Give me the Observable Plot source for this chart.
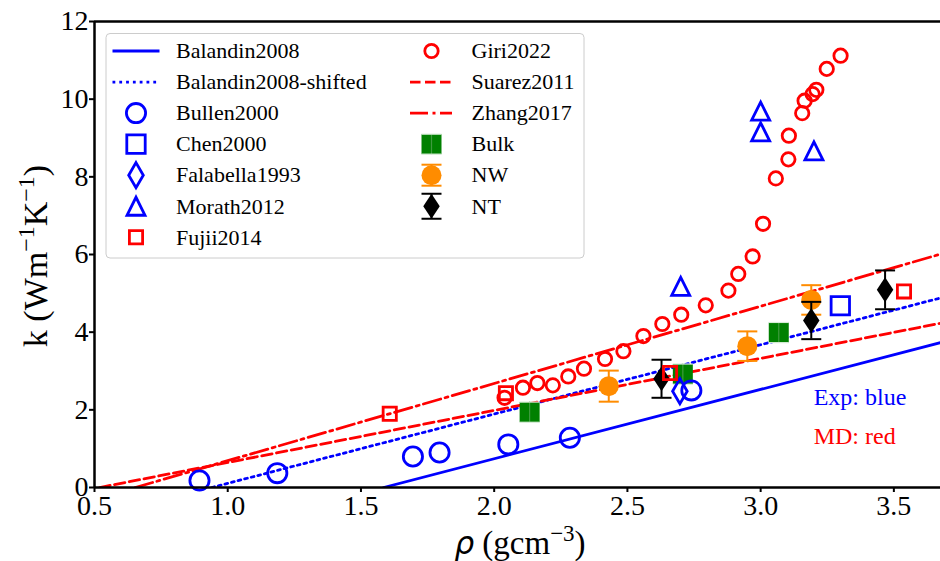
<!DOCTYPE html>
<html><head><meta charset="utf-8">
<script src="https://cdn.jsdelivr.net/npm/d3@7"></script>
<script src="https://cdn.jsdelivr.net/npm/@observablehq/plot@0.6"></script>
<style>body{margin:0;background:#fff}#chart{position:relative;width:940px;height:561px}</style>
</head><body><div id="chart"></div>
<script>
// ---------- data ----------
const xTicks = [0.5, 1.0, 1.5, 2.0, 2.5, 3.0, 3.5];
const yTicks = [0, 2, 4, 6, 8, 10, 12];

const bullenRho = [0.894, 1.186, 1.695, 1.795, 2.053, 2.284, 2.74];
const bullenK   = [0.18, 0.37, 0.80, 0.90, 1.11, 1.28, 2.50];
const chenRho = [3.299];
const chenK   = [4.68];
const falabellaRho = [2.697];
const falabellaK   = [2.48];
const morathRho = [2.70, 3.00, 3.00, 3.20];
const morathK   = [5.18, 9.69, 9.16, 8.67];
const fujiiRho = [1.608, 2.044, 2.66, 3.538];
const fujiiK   = [1.90, 2.43, 2.95, 5.05];
const giriRho = [2.039, 2.108, 2.162, 2.220, 2.278, 2.337, 2.416, 2.485, 2.560, 2.631, 2.702, 2.794, 2.879, 2.916, 2.970, 3.009, 3.057, 3.104, 3.106, 3.156, 3.165, 3.195, 3.209, 3.248, 3.300];
const giriK   = [2.31, 2.57, 2.69, 2.63, 2.86, 3.06, 3.31, 3.51, 3.90, 4.21, 4.45, 4.69, 5.07, 5.50, 5.95, 6.79, 7.96, 8.45, 9.06, 9.64, 9.96, 10.13, 10.24, 10.78, 11.12];

const bulkRho = [2.133, 2.708, 3.068];
const bulkK   = [1.94, 2.92, 3.99];
const bulkErr = [0.26, 0.26, 0.26];
const nwRho = [2.43, 2.95, 3.19];
const nwK   = [2.61, 3.64, 4.83];
const nwErr = [0.40, 0.38, 0.38];
const ntRho = [2.628, 3.19, 3.467];
const ntK   = [2.80, 4.30, 5.09];
const ntErr = [0.49, 0.48, 0.50];

// fitted straight lines: end points
const balandinRho = [1.585, 3.675];
const balandinK   = [0, 3.73];
const shiftedRho = [0.94, 3.675];
const shiftedK   = [0, 4.88];
const suarezRho = [0.52, 3.675];
const suarezK   = [0, 4.23];
const zhangRho = [0.653, 3.675];
const zhangK   = [0, 6.01];

const noteText  = ["Exp: blue", "MD: red"];
const noteRho   = [3.199, 3.199];
const noteK     = [2.32, 1.31];
const noteColor = ["#0000ff", "#ff0000"];

// ---------- helpers ----------
const zip = (xs, ys, es) => xs.map((x, i) => ({x, y: ys[i], e: es ? es[i] : 0}));
const rOf = size => Math.sqrt(size / Math.PI);
const thinDiamond = ratio => ({draw(c, s) {const r = rOf(s), w = r * ratio; c.moveTo(0, -r); c.lineTo(w, 0); c.lineTo(0, r); c.lineTo(-w, 0); c.closePath();}});
const triUp = {draw(c, s) {const r = rOf(s); c.moveTo(0, -r); c.lineTo(r, r); c.lineTo(-r, r); c.closePath();}};
const sq = {draw(c, s) {const r = rOf(s); c.moveTo(-r, -r); c.lineTo(r, -r); c.lineTo(r, r); c.lineTo(-r, r); c.closePath();}};
const cap = {draw(c, s) {const r = rOf(s); c.moveTo(-r, 0); c.lineTo(r, 0);}};
const circ = {draw(c, s) {const r = rOf(s); c.moveTo(r, 0); c.arc(0, 0, r, 0, 2 * Math.PI);}};

const BLUE = "#0000ff", RED = "#ff0000", GREEN = "#008000", ORANGE = "#ff8c00";
const BULKBAR = "#3f9a3f", BULKCAP = "#d8ecd8";
const LW = 2.8, MW = 2.8;
const DASH = "10.5,4.5", DASHDOT = "18,4.5,3,4.5", DOT = "2.8,4";

const lines = [
  {d: zip(balandinRho, balandinK), c: BLUE, dash: null},
  {d: zip(shiftedRho, shiftedK), c: BLUE, dash: DOT},
  {d: zip(suarezRho, suarezK), c: RED, dash: DASH},
  {d: zip(zhangRho, zhangK), c: RED, dash: DASHDOT}
];

const bulk = zip(bulkRho, bulkK, bulkErr);
const nw = zip(nwRho, nwK, nwErr);
const nt = zip(ntRho, ntK, ntErr);

function errMarks(data, color, width, capR, capColor = color) {
  return [
    Plot.ruleX(data, {x: "x", y1: d => d.y - d.e, y2: d => d.y + d.e, stroke: color, strokeWidth: width}),
    Plot.dot(data, {x: "x", y: d => d.y + d.e, symbol: cap, r: capR, stroke: capColor, fill: "none", strokeWidth: width}),
    Plot.dot(data, {x: "x", y: d => d.y - d.e, symbol: cap, r: capR, stroke: capColor, fill: "none", strokeWidth: width})
  ];
}

const W = 940, H = 561, ML = 94, MR = 0, MT = 21, MB = 74;
const FONT = "'Liberation Serif', 'Times New Roman', serif";

const plot = Plot.plot({
  width: W, height: H,
  marginLeft: ML, marginRight: MR, marginTop: MT, marginBottom: MB,
  style: {fontFamily: FONT, fontSize: "28px", color: "black", background: "white"},
  x: {domain: [0.5, 3.675], label: null},
  y: {domain: [0, 12], label: null},
  marks: [
    ...lines.map(l => Plot.line(l.d, {x: "x", y: "y", stroke: l.c, strokeWidth: LW, strokeDasharray: l.dash, clip: true})),
    // simulation results with error bars
    Plot.dot(bulk, {x: "x", y: "y", symbol: sq, r: 10, fill: GREEN, stroke: "none"}),
    ...errMarks(bulk, BULKBAR, 1.2, 10, BULKCAP),
    ...errMarks(nw, ORANGE, 2, 10),
    Plot.dot(nw, {x: "x", y: "y", symbol: circ, r: 10, fill: ORANGE, stroke: "none"}),
    ...errMarks(nt, "black", 2, 10),
    Plot.dot(nt, {x: "x", y: "y", symbol: thinDiamond(0.66), r: 12.5, fill: "black", stroke: "none"}),
    // literature
    Plot.dot(zip(bullenRho, bullenK), {x: "x", y: "y", symbol: circ, r: 9.6, stroke: BLUE, fill: "none", strokeWidth: MW}),
    Plot.dot(zip(chenRho, chenK), {x: "x", y: "y", symbol: sq, r: 9.2, stroke: BLUE, fill: "none", strokeWidth: MW}),
    Plot.dot(zip(falabellaRho, falabellaK), {x: "x", y: "y", symbol: thinDiamond(0.58), r: 12.6, stroke: BLUE, fill: "none", strokeWidth: MW}),
    Plot.dot(zip(morathRho, morathK), {x: "x", y: "y", symbol: triUp, r: 9, stroke: BLUE, fill: "none", strokeWidth: MW, strokeLinejoin: "miter"}),
    Plot.dot(zip(fujiiRho, fujiiK), {x: "x", y: "y", symbol: sq, r: 6.6, stroke: RED, fill: "none", strokeWidth: MW}),
    Plot.dot(zip(giriRho, giriK), {x: "x", y: "y", symbol: circ, r: 6.7, stroke: RED, fill: "none", strokeWidth: MW}),
    Plot.text(noteText.map((t, i) => ({t, x: noteRho[i], y: noteK[i], c: noteColor[i]})),
      {x: "x", y: "y", text: "t", fill: "c", textAnchor: "start", fontSize: 24, lineAnchor: "middle"}),
    // spines
    Plot.ruleY([0], {stroke: "black", strokeWidth: 2.5}),
    Plot.ruleY([12], {stroke: "black", strokeWidth: 2.5}),
    Plot.ruleX([0.5], {stroke: "black", strokeWidth: 2.5}),
    Plot.axisX({ticks: xTicks, tickFormat: d3.format(".1f"), tickSize: 5, tickPadding: 3, strokeWidth: 2, fontSize: 28}),
    Plot.axisY({ticks: yTicks, tickFormat: d => String(d), tickSize: 5, tickPadding: 1, strokeWidth: 2, fontSize: 28})
  ]
});
document.getElementById("chart").appendChild(plot);

// ---------- axis labels and legend ----------
const svg = d3.select(plot);
const xl = svg.append("text").attr("x", (ML + W - MR) / 2 + 3).attr("y", 554)
  .attr("text-anchor", "middle").attr("font-family", FONT).attr("font-size", 33).attr("fill", "black");
xl.append("tspan").attr("font-family", "'DejaVu Sans'").attr("font-style", "italic").attr("font-size", 31).text("ρ");
xl.append("tspan").text(" (gcm");
xl.append("tspan").attr("dy", -13).attr("font-size", 23).text("−3");
xl.append("tspan").attr("dy", 13).text(")");

const cy = (MT + H - MB) / 2 + 2;
const yl = svg.append("text").attr("transform", `translate(47,${cy}) rotate(-90)`)
  .attr("text-anchor", "middle").attr("font-family", FONT).attr("font-size", 34).attr("fill", "black");
yl.append("tspan").text("k (Wm");
yl.append("tspan").attr("dy", -13).attr("font-size", 24).text("−1");
yl.append("tspan").attr("dy", 13).text("K");
yl.append("tspan").attr("dy", -13).attr("font-size", 24).text("−1");
yl.append("tspan").attr("dy", 13).text(")");

const lg = svg.append("g");
lg.append("rect").attr("x", 106).attr("y", 33.5).attr("width", 478).attr("height", 224.5).attr("rx", 4)
  .attr("fill", "white").attr("fill-opacity", 0.8).attr("stroke", "#cccccc").attr("stroke-width", 1);

const legendCols = [
  [
    {label: "Balandin2008", kind: "line", c: BLUE, dash: null},
    {label: "Balandin2008-shifted", kind: "line", c: BLUE, dash: DOT},
    {label: "Bullen2000", kind: "sym", sym: circ, r: 9.6, c: BLUE},
    {label: "Chen2000", kind: "sym", sym: sq, r: 9.2, c: BLUE},
    {label: "Falabella1993", kind: "sym", sym: thinDiamond(0.58), r: 12.6, c: BLUE},
    {label: "Morath2012", kind: "sym", sym: triUp, r: 9, c: BLUE},
    {label: "Fujii2014", kind: "sym", sym: sq, r: 6.6, c: RED}
  ],
  [
    {label: "Giri2022", kind: "sym", sym: circ, r: 6.7, c: RED},
    {label: "Suarez2011", kind: "line", c: RED, dash: DASH},
    {label: "Zhang2017", kind: "line", c: RED, dash: DASHDOT},
    {label: "Bulk", kind: "fill", sym: sq, r: 10, c: GREEN, barc: BULKBAR, capc: BULKCAP, capw: 1.2, e: 10},
    {label: "NW", kind: "fill", sym: circ, r: 10, c: ORANGE, barc: ORANGE, capc: ORANGE, capw: 2, e: 10.5},
    {label: "NT", kind: "fill", sym: thinDiamond(0.66), r: 12.5, c: "black", barc: "black", capc: "black", capw: 2, e: 12.5}
  ]
];
const colSym = [136, 431.5], colLine = [[112.5, 159.5], [410, 452]], colText = [176, 471.5];
function drawErr(sx, yy, it) {
  lg.append("line").attr("x1", sx).attr("x2", sx).attr("y1", yy - it.e).attr("y2", yy + it.e).attr("stroke", it.barc).attr("stroke-width", it.capw);
  [-it.e, it.e].forEach(o => lg.append("line").attr("x1", sx - 10).attr("x2", sx + 10).attr("y1", yy + o).attr("y2", yy + o).attr("stroke", it.capc).attr("stroke-width", it.capw));
}
legendCols.forEach((col, ci) => col.forEach((it, ri) => {
  const yy = 51 + ri * 31.05;
  const sx = colSym[ci];
  if (it.kind === "line") {
    lg.append("line").attr("x1", colLine[ci][0]).attr("x2", colLine[ci][1]).attr("y1", yy).attr("y2", yy)
      .attr("stroke", it.c).attr("stroke-width", LW).attr("stroke-dasharray", it.dash);
  } else if (it.kind === "sym") {
    lg.append("path").attr("transform", `translate(${sx},${yy})`)
      .attr("d", d3.symbol(it.sym, it.r * it.r * Math.PI)())
      .attr("fill", "none").attr("stroke", it.c).attr("stroke-width", MW);
  } else {
    if (it.label !== "Bulk") drawErr(sx, yy, it);
    lg.append("path").attr("transform", `translate(${sx},${yy})`)
      .attr("d", d3.symbol(it.sym, it.r * it.r * Math.PI)()).attr("fill", it.c);
    if (it.label === "Bulk") drawErr(sx, yy, it);
  }
  lg.append("text").attr("x", colText[ci]).attr("y", yy).attr("dy", "0.33em").attr("text-anchor", "start")
    .attr("font-family", FONT).attr("font-size", 22).attr("fill", "black").text(it.label);
}));
</script>
</body></html>
